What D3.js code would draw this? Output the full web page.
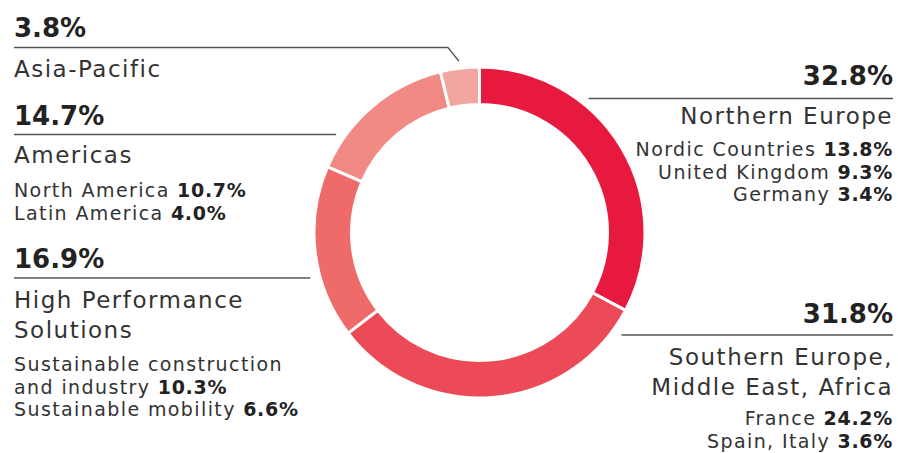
<!DOCTYPE html>
<html>
<head>
<meta charset="utf-8">
<style>
    body { margin: 0; background: #fff; }
    svg { display: block; font-family: 'DejaVu Sans', 'Open Sans', Arial, sans-serif; }
    .pct { font-weight: 700; fill: #222; }
    .name { fill: #333; letter-spacing: 1.5px; }
    .sub { fill: #333; letter-spacing: 1.4px; }
    .sub .val { font-weight: 700; fill: #222; letter-spacing: 0.7px; }
    .leader { stroke: #555; stroke-width: 1.3; fill: none; }
</style>
</head>
<body>
<svg width="898" height="453"></svg>
<script src="https://d3js.org/d3.v7.min.js"></script>
<script>

// data, clockwise from 12 o'clock
const regions = ["Northern Europe", "Southern Europe, Middle East, Africa", "High Performance Solutions", "Americas", "Asia-Pacific"];
const shares = [32.8, 31.8, 16.9, 14.7, 3.8];
const nameLines = [["Northern Europe"], ["Southern Europe,", "Middle East, Africa"], ["High Performance", "Solutions"], ["Americas"], ["Asia-Pacific"]];
const subLabels = [
    ["Nordic Countries", "United Kingdom", "Germany"],
    ["France", "Spain, Italy"],
    ["Sustainable construction\nand industry", "Sustainable mobility"],
    ["North America", "Latin America"],
    []
];
const subShares = [[13.8, 9.3, 3.4], [24.2, 3.6], [10.3, 6.6], [10.7, 4.0], []];
const colors = ["#e8193f", "#ec4a56", "#ef6b6a", "#f18a84", "#f3a59f"];

// label layout (baselines in px)
const layout = [
    { side: "right", pctY: 85, lineY: 98.5, nameY: 124, subY: 156 },
    { side: "right", pctY: 323, lineY: 335, nameY: 365, subY: 425 },
    { side: "left", pctY: 268, lineY: 278, nameY: 308, subY: 371 },
    { side: "left", pctY: 125, lineY: 134.5, nameY: 163, subY: 197 },
    { side: "left", pctY: 37, lineY: 47.5, nameY: 77, subY: null, bend: true }
];

let cx = 479.5, cy = 232.5;
let outerR = 165.5, innerR = 128;
let leftX = 14, rightX = 893;
let nameStep = 30, subStep = 22.5;

let svg = d3.select("svg");

let pie = d3.pie().sort(null).value(d => d)(shares);
let arc = d3.arc().innerRadius(innerR).outerRadius(outerR);

let ring = svg.append("g").attr("transform", `translate(${cx},${cy})`);
ring.selectAll("path")
    .data(pie)
    .join("path")
    .attr("d", arc)
    .attr("fill", (d, i) => colors[i])
    .attr("stroke", "#fff")
    .attr("stroke-width", 3);

// x where the ring's outer edge crosses a given y
function ringX(y, side) {
    let dy = y - cy;
    let dx = Math.sqrt(Math.max(0, outerR * outerR - dy * dy));
    return side === "left" ? cx - dx : cx + dx;
}

let fmt = d3.format(".1f");

layout.forEach(function (L, i) {
    let left = L.side === "left";
    let x = left ? leftX : rightX;
    let anchor = left ? "start" : "end";
    let g = svg.append("g");

    g.append("text").attr("class", "pct")
        .attr("x", x).attr("y", L.pctY)
        .attr("text-anchor", anchor)
        .style("font-size", "26px")
        .text(fmt(shares[i]) + "%");

    // leader line
    if (L.bend) {
        let c = d3.arc().innerRadius(outerR + 7).outerRadius(outerR + 7).centroid(pie[i]);
        g.append("path").attr("class", "leader")
            .attr("d", `M${x},${L.lineY}H${cx + c[0] - 11}L${cx + c[0]},${cy + c[1]}`);
    } else {
        let edge = ringX(L.lineY, L.side);
        let end = left ? edge - 10 : edge + 12;
        g.append("line").attr("class", "leader")
            .attr("x1", x).attr("x2", end)
            .attr("y1", L.lineY).attr("y2", L.lineY);
    }

    nameLines[i].forEach(function (t, k) {
        g.append("text").attr("class", "name")
            .attr("x", x).attr("y", L.nameY + k * nameStep)
            .attr("text-anchor", anchor)
            .style("font-size", "23px")
            .text(t);
    });

    let row = 0;
    subLabels[i].forEach(function (lab, k) {
        let parts = lab.split("\n");
        parts.forEach(function (p, j) {
            let t = g.append("text").attr("class", "sub")
                .attr("x", x).attr("y", L.subY + row * subStep)
                .attr("text-anchor", anchor)
                .style("font-size", "19px");
            t.append("tspan").text(p);
            if (j === parts.length - 1) {
                t.append("tspan").attr("class", "val").text(" " + fmt(subShares[i][k]) + "%");
            }
            row++;
        });
    });
});

</script>
</body>
</html>
